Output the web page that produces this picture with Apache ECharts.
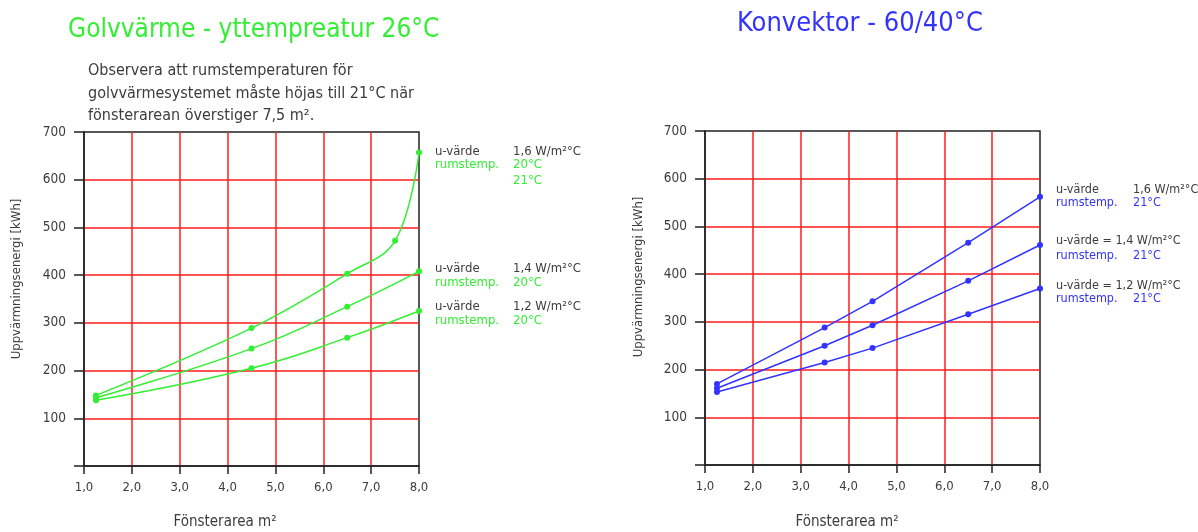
<!DOCTYPE html>
<html><head><meta charset="utf-8">
<script src="https://cdn.jsdelivr.net/npm/echarts@6/dist/echarts.min.js"></script>
<style>html,body{margin:0;padding:0;background:#fff}#c{width:1198px;height:532px}</style>
</head><body><div id="c"></div>
<script>
// ---- data ----
const xTicks = [1, 2, 3, 4, 5, 6, 7, 8];
const yTicks = [100, 200, 300, 400, 500, 600, 700];
// Golvvärme (left)
const golvU16 = [[1.25,148],[4.5,289],[6.5,403],[7.5,472],[8,657]];
const golvU14 = [[1.25,143],[4.5,246],[6.5,334],[8,408]];
const golvU12 = [[1.25,138],[4.5,205],[6.5,269],[8,325]];
// Konvektor (right)
const konvU16 = [[1.25,170],[3.5,288],[4.5,343],[6.5,466],[8,562]];
const konvU14 = [[1.25,161],[3.5,250],[4.5,293],[6.5,386],[8,461]];
const konvU12 = [[1.25,153],[3.5,215],[4.5,245],[6.5,316],[8,370]];

const FONT = '"DejaVu Sans Condensed", "DejaVu Sans", sans-serif';
const GREEN = '#33ee33', BLUE = '#3333ff', RED = '#ff1c1c', GRAY = '#3c3c3c', BLACK = '#222';

function xAx(gi){ return {
  type:'value', gridIndex:gi, min:1, max:8, interval:1,
  axisLine:{show:true, lineStyle:{color:BLACK, width:1.5}},
  axisTick:{show:true, length:8, lineStyle:{color:BLACK, width:1.5}},
  axisLabel:{color:GRAY, fontFamily:FONT, fontSize:13, margin:15,
    formatter:v=>v.toFixed(1).replace('.',',')},
  splitLine:{show:true, showMinLine:false, showMaxLine:false, lineStyle:{color:RED, width:1.5}}
};}
function yAx(gi){ return {
  type:'value', gridIndex:gi, min:0, max:700, interval:100,
  axisLine:{show:true, lineStyle:{color:BLACK, width:1.5}},
  axisTick:{show:true, length:10, lineStyle:{color:BLACK, width:1.5}},
  axisLabel:{color:GRAY, fontFamily:FONT, fontSize:13.5, margin:18,
    formatter:v=>v===0?'':String(v)},
  splitLine:{show:true, showMinLine:false, showMaxLine:false, lineStyle:{color:RED, width:1.5}}
};}
function ser(data, gi, color, smooth){ return {
  type:'line', xAxisIndex:gi, yAxisIndex:gi, data:data, smooth:smooth,
  symbol:'circle', symbolSize:6, showSymbol:true,
  lineStyle:{color:color, width:1.5}, itemStyle:{color:color}, z:5
};}
function txt(x,y,s,color,size,align){ return {
  type:'text', x:x, y:y, z:10,
  style:{text:s, fill:color, font:size+'px '+FONT, textAlign:align||'left', textVerticalAlign:'middle'}
};}

const chart = echarts.init(document.getElementById('c'));
chart.setOption({
  animation:false,
  grid:[
    {left:84, right:779, top:132, bottom:66, show:true, borderColor:BLACK, borderWidth:1.5},
    {left:705, right:158, top:131, bottom:67, show:true, borderColor:BLACK, borderWidth:1.5}
  ],
  xAxis:[xAx(0), xAx(1)],
  yAxis:[yAx(0), yAx(1)],
  series:[
    ser(golvU16,0,GREEN,0.38), ser(golvU14,0,GREEN,0.45), ser(golvU12,0,GREEN,0.45),
    ser(konvU16,1,BLUE,false), ser(konvU14,1,BLUE,false), ser(konvU12,1,BLUE,false)
  ],
  graphic:[
    txt(68,30,'Golvvärme - yttempreatur 26°C',GREEN,26),
    txt(737,24,'Konvektor - 60/40°C',BLUE,27),
    txt(88,71,'Observera att rumstemperaturen för',GRAY,16),
    txt(88,94,'golvvärmesystemet måste höjas till 21°C när',GRAY,16),
    txt(88,116,'fönsterarean överstiger 7,5 m².',GRAY,16),
    // left legend
    txt(435,152,'u-värde',GRAY,13), txt(513,152,'1,6 W/m²°C',GRAY,13),
    txt(435,165,'rumstemp.',GREEN,13), txt(513,165,'20°C',GREEN,13),
    txt(513,181,'21°C',GREEN,13),
    txt(435,269,'u-värde',GRAY,13), txt(513,269,'1,4 W/m²°C',GRAY,13),
    txt(435,283,'rumstemp.',GREEN,13), txt(513,283,'20°C',GREEN,13),
    txt(435,307,'u-värde',GRAY,13), txt(513,307,'1,2 W/m²°C',GRAY,13),
    txt(435,321,'rumstemp.',GREEN,13), txt(513,321,'20°C',GREEN,13),
    // right legend
    txt(1056,190,'u-värde',GRAY,12.5), txt(1133,190,'1,6 W/m²°C',GRAY,12.5),
    txt(1056,203,'rumstemp.',BLUE,12.5), txt(1133,203,'21°C',BLUE,12.5),
    txt(1056,241,'u-värde = 1,4 W/m²°C',GRAY,12.5),
    txt(1056,256,'rumstemp.',BLUE,12.5), txt(1133,256,'21°C',BLUE,12.5),
    txt(1056,286,'u-värde = 1,2 W/m²°C',GRAY,12.5),
    txt(1056,299,'rumstemp.',BLUE,12.5), txt(1133,299,'21°C',BLUE,12.5),
    // axis names
    txt(225,522,'Fönsterarea m²',GRAY,15,'center'),
    txt(847,522,'Fönsterarea m²',GRAY,15,'center'),
    {type:'text', x:17, y:279, rotation:Math.PI/2, z:10,
      style:{text:'Uppvärmningsenergi [kWh]', fill:GRAY, font:'13px '+FONT, textAlign:'center', textVerticalAlign:'middle'}},
    {type:'text', x:639, y:277, rotation:Math.PI/2, z:10,
      style:{text:'Uppvärmningsenergi [kWh]', fill:GRAY, font:'13px '+FONT, textAlign:'center', textVerticalAlign:'middle'}}
  ]
});
</script></body></html>
